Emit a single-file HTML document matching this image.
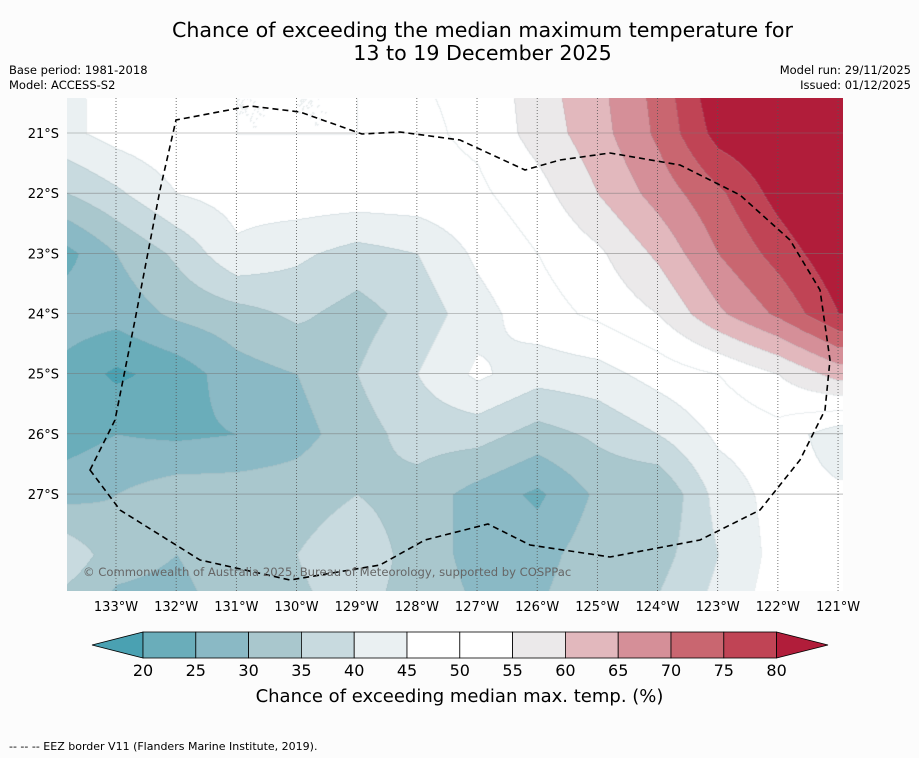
<!DOCTYPE html>
<html><head><meta charset="utf-8">
<style>
body{margin:0;background:#fcfcfc;font-family:"Liberation Sans","DejaVu Sans",sans-serif;}
#wrap{position:relative;width:919px;height:758px;overflow:hidden;background:#fcfcfc}
.t{position:absolute;white-space:nowrap;color:#000}
</style></head><body>
<div id="wrap">
<div class="t" style="left:0;width:965px;top:19px;text-align:center;font-size:20.6px;line-height:23px;font-family:'DejaVu Sans',sans-serif">Chance of exceeding the median maximum temperature for<br>13 to 19 December 2025</div>
<div class="t" style="left:9px;top:63px;font-size:11.5px;line-height:15px;font-family:'DejaVu Sans',sans-serif">Base period: 1981-2018<br>Model: ACCESS-S2</div>
<div class="t" style="right:8px;top:63px;font-size:11.5px;line-height:15px;text-align:right;font-family:'DejaVu Sans',sans-serif">Model run: 29/11/2025<br>Issued: 01/12/2025</div>
<canvas id="field" width="776" height="493" style="position:absolute;left:67px;top:98px"></canvas>
<svg id="ov" width="919" height="758" style="position:absolute;left:0;top:0"></svg>
<div class="t" style="left:83px;top:565px;font-size:11.6px;color:#666;font-family:'DejaVu Sans',sans-serif">© Commonwealth of Australia 2025, Bureau of Meteorology, supported by COSPPac</div>
<div class="t" style="left:0;width:919px;text-align:center;top:686px;font-size:18px;font-family:'DejaVu Sans',sans-serif">Chance of exceeding median max. temp. (%)</div>
<div class="t" style="left:9px;top:740px;font-size:11px;font-family:'DejaVu Sans',sans-serif">--  --  -- EEZ border V11 (Flanders Marine Institute, 2019).</div>
</div>
<script>
// grid: longitudes (°W) and latitudes (°S)
const lons=[134,133,132,131,130,129,128,127,126,125,124,123,122,121];
const lats=[20,21,22,23,24,25,26,27,28,29];
const probRows=[
[43,47,50,50,50,50,50,51,58,64,72,85,88,88],
[43,47,49,50,50,50,49,51,57,63,71,82,85,88],
[34,39,45,47,48,48,48,49,53,60,67,74,82,88],
[22,30,36,44,41,38,40,46,50,54,61,70,77,84],
[28,27,31,33,36,33,37,43,48,51,55,64,71,80],
[24,19,22,28,30,35,40,46,42,43,47,50,55,62],
[22,25,24,25,28,33,37,37,33,36,40,46,48,42],
[28,30,33,33,33,35,33,28,24,31,30,42,47,46],
[40,32,30,33,35,38,33,28,28,33,33,40,47,48],
[32,28,28,32,34,36,33,30,30,34,36,42,48,48]];
const levels=[20,25,30,35,40,45,50,55,60,65,70,75,80];
const bandColors=["#4aa1b2","#6aadba","#8ab9c5","#a9c7cd","#c8dadf","#eaf0f2","#ffffff","#ffffff","#ebe9ea","#e2b8bd","#d58f98","#c96670","#c04455","#b11d3a"];
const lonTicks=[133,132,131,130,129,128,127,126,125,124,123,122,121];
const latTicks=[21,22,23,24,25,26,27];

const PX=60.17;
const X=lon=>116+(133-lon)*PX;
const Y=lat=>133+(lat-21)*PX;
const L=67,T=98,W=776,H=493;

function val(lon,lat){
  let i=(lons[0]-lon), j=(lat-lats[0]);
  i=Math.max(0,Math.min(lons.length-1.001,i)); j=Math.max(0,Math.min(lats.length-1.001,j));
  const i0=Math.floor(i),j0=Math.floor(j),fx=i-i0,fy=j-j0;
  const a=probRows[j0][i0],b=probRows[j0][i0+1],c=probRows[j0+1][i0],d=probRows[j0+1][i0+1];
  return a*(1-fx)*(1-fy)+b*fx*(1-fy)+c*(1-fx)*fy+d*fx*fy;
}
function band(v){let k=0;while(k<levels.length&&v>=levels[k])k++;return k;}
function hex(h){return [parseInt(h.substr(1,2),16),parseInt(h.substr(3,2),16),parseInt(h.substr(5,2),16)];}
const cv=document.getElementById('field'),ctx=cv.getContext('2d');
const img=ctx.createImageData(W,H);
const rgb=bandColors.map(hex);
const bands=new Int8Array(W*H);
for(let y=0;y<H;y++)for(let x=0;x<W;x++){
  const lon=133-((x+L)-116)/PX, lat=21+((y+T)-133)/PX;
  const k=band(val(lon,lat));bands[y*W+x]=k;
  const c=rgb[k],p=(y*W+x)*4;img.data[p]=c[0];img.data[p+1]=c[1];img.data[p+2]=c[2];img.data[p+3]=255;
}
for(let y=1;y<H;y++)for(let x=1;x<W;x++){
  const k=bands[y*W+x];
  if(k!==bands[y*W+x-1]||k!==bands[(y-1)*W+x]){const p=(y*W+x)*4;
    img.data[p]=Math.round(img.data[p]*0.8+150*0.2);img.data[p+1]=Math.round(img.data[p+1]*0.8+170*0.2);img.data[p+2]=Math.round(img.data[p+2]*0.8+175*0.2);}
}
ctx.putImageData(img,0,0);

const ns="http://www.w3.org/2000/svg",ov=document.getElementById('ov');
function mk(tag,attrs,txt){const e=document.createElementNS(ns,tag);for(const k in attrs)e.setAttribute(k,attrs[k]);if(txt!==undefined)e.textContent=txt;ov.appendChild(e);return e;}
lonTicks.forEach(lon=>{
  const l=mk('line',{x1:X(lon),x2:X(lon),y1:T,y2:T+H,stroke:'#555','stroke-width':0.8,'stroke-dasharray':'1,2'});
  
  
  const t=mk('text',{x:X(lon),y:611,'text-anchor':'middle','font-size':13,'font-family':'DejaVu Sans, sans-serif'},lon+'°W');
  
  
});
latTicks.forEach(lat=>{
  const l=mk('line',{x1:L,x2:L+W,y1:Y(lat),y2:Y(lat),stroke:'#777','stroke-width':0.6,opacity:0.8});
  
  
  const t=mk('text',{x:59,y:Y(lat)+5,'text-anchor':'end','font-size':13,'font-family':'DejaVu Sans, sans-serif'},lat+'°S');
  
  
});
const eez=mk('path',{d:'M90,470 L115,420 L135,320 L160,190 L176,120 L250,106 L300,112 L362,134 L400,132 L460,140 L525,170 L560,160 L610,153 L680,165 L740,195 L790,240 L820,290 L830,360 L825,410 L800,460 L760,510 L700,540 L610,557 L530,545 L488,524 L425,540 L380,565 L290,580 L200,560 L120,510 Z',fill:'none',stroke:'#000','stroke-width':1.6,'stroke-dasharray':'6,4'});


const cb0=143,seg=52.8,cy=632,ch=26;
const lt=mk('polygon',{points:`${cb0},${cy} ${cb0},${cy+ch} 92,${cy+ch/2}`,fill:bandColors[0],stroke:'#000','stroke-width':0.8});


for(let i=0;i<levels.length-1;i++){
  const r=mk('rect',{x:cb0+i*seg,y:cy,width:seg,height:ch,fill:bandColors[i+1],stroke:'#000','stroke-width':0.8});
  
  
}
const xe=cb0+(levels.length-1)*seg;
const rt=mk('polygon',{points:`${xe},${cy} ${xe},${cy+ch} 828,${cy+ch/2}`,fill:bandColors[bandColors.length-1],stroke:'#000','stroke-width':0.8});


levels.forEach((v,i)=>{
  const t=mk('text',{x:cb0+i*seg,y:676,'text-anchor':'middle','font-size':16,'font-family':'DejaVu Sans, sans-serif'},String(v));
  
  
});
</script>
</body></html>
